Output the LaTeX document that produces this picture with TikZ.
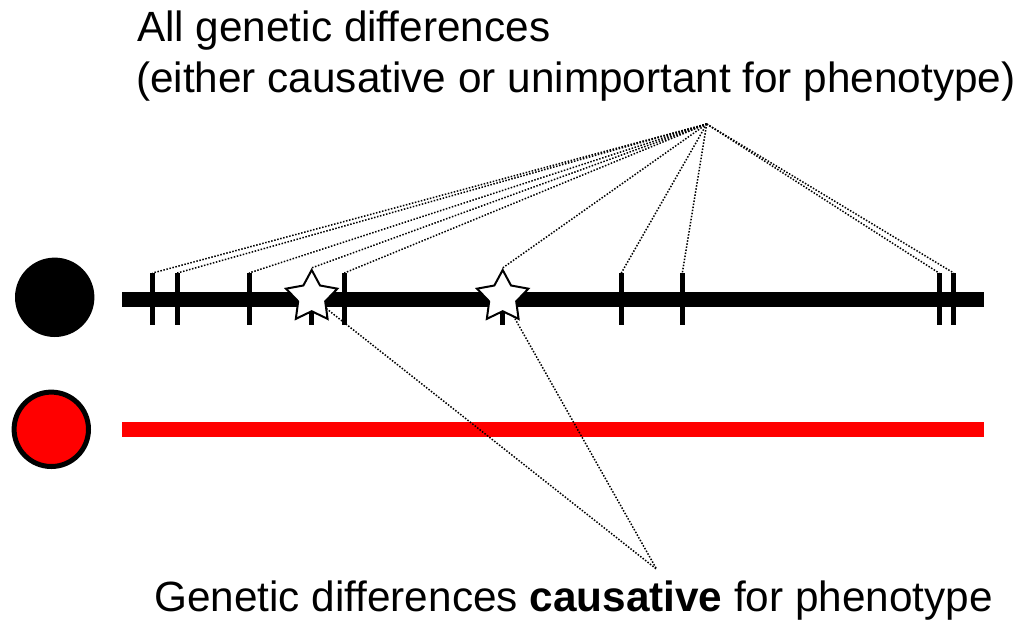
\documentclass[tikz,border=0pt]{standalone}
\usepackage{fontspec}
\setmainfont{Liberation Sans}
\usetikzlibrary{shapes.geometric}
\begin{document}
\begin{tikzpicture}[x=1pt,y=-1pt,
  lbl/.style={font=\fontsize{42.3}{50}\selectfont, inner sep=0pt, anchor=base west},
  tickmark/.style={fill=black, draw=none, minimum width=5pt, minimum height=52pt, inner sep=0pt, anchor=north},
  starmark/.style={star, star points=5, star point ratio=1.9, minimum size=54pt, inner sep=0pt, fill=white, draw=black, line width=2pt},
  dots/.style={line width=1.5pt, dash pattern=on 1.5pt off 1.6pt}
]
\useasboundingbox (0,0) rectangle (1033,625);

% text
\node[lbl] (t1) at (137,41) {All genetic differences};
\node[lbl] (t2) at (136,92.5) {(either causative or unimportant for phenotype)};
\node[lbl] (t3) at (154,611) {Genetic differences \textbf{causative} for phenotype};

% circles
\node[circle, fill=black, minimum size=79.4pt, inner sep=0pt] (cb) at (54.7,297.3) {};
\node[circle, fill=red, draw=black, line width=5pt, minimum size=74.4pt, inner sep=0pt] (cr) at (51.3,429.3) {};

% bars
\coordinate (b1) at (122,299);
\coordinate (b2) at (984,299);
\coordinate (r1) at (122,429);
\coordinate (r2) at (984,429);
\draw[line width=15pt, black] (b1) -- (b2);
\draw[line width=15pt, red] (r1) -- (r2);

% ticks
\foreach \n/\x in {1/152.7, 2/177.3, 3/249, 4/311.7, 5/344.3, 6/502.7, 7/621.3, 8/682.3, 9/939, 10/953.7}
  \node[tickmark] (tk\n) at (\x,273) {};

% apexes
\coordinate (top) at (706.7,124);
\coordinate (bot) at (656.7,569.3);
\coordinate (c1) at (311.7,297);
\coordinate (c2) at (502.7,297);

% lines to bottom apex
\draw[dots] (c1) -- (bot);
\draw[dots] (c2) -- (bot);

% stars
\node[starmark] (s1) at (c1) {};
\node[starmark] (s2) at (c2) {};

% lines to top apex
\foreach \n in {1,2,3,5,7,8,9,10}
  \draw[dots] (top) -- (tk\n.north);
\draw[dots] (top) -- (s1.north);
\draw[dots] (top) -- (s2.north);
\end{tikzpicture}
\end{document}
